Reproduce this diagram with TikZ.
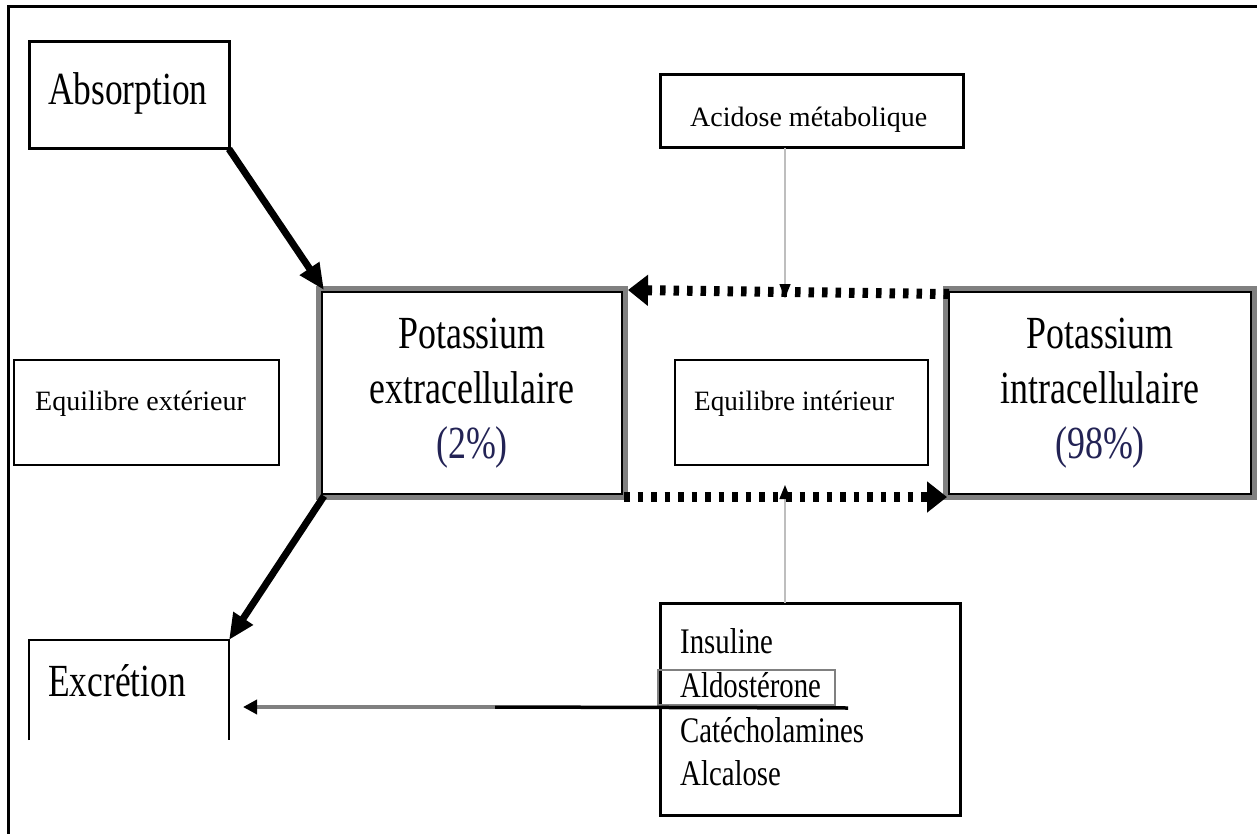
\documentclass[tikz,border=0pt]{standalone}
\usepackage{fontspec}
\usepackage{graphicx}
\setmainfont{Liberation Serif}
\usetikzlibrary{arrows.meta,calc}
\definecolor{navy}{RGB}{35,35,85}
\definecolor{kgray}{RGB}{128,128,128}
\definecolor{lgray}{RGB}{190,190,190}
\newcommand{\hsq}[2]{\scalebox{#1}[1]{#2}}
\begin{document}
\begin{tikzpicture}[x=1pt,y=-1pt,
  bx/.style={draw=black, rectangle, inner sep=0pt, outer sep=0pt},
  bigtxt/.style={font=\fontsize{46}{55}\selectfont, inner sep=0pt},
  midtxt/.style={font=\fontsize{36}{43}\selectfont, inner sep=0pt, anchor=base west},
  smalltxt/.style={font=\fontsize{28}{32}\selectfont, inner sep=0pt, anchor=base west},
  thickarrow/.style={line width=7pt, -{Triangle[length=26pt,width=22pt]}},
  dotarrow/.style={line width=10pt, dash pattern=on 5.5pt off 8pt, -{Triangle[length=20pt,width=30pt]}},
  thinarrow/.style={lgray, line width=1.5pt, -{Triangle[length=14pt,width=11pt,color=black]}}
]
\useasboundingbox (0,0) rectangle (1257,834);
% frame (top and left)
\draw[line width=3pt] (8,834) -- (8,7) -- (1257,7);

% boxes
\node[bx, line width=3pt, minimum width=200pt, minimum height=107pt] (abs) at (129,95.5) {};
\node[bx, line width=2.5pt, minimum width=265pt, minimum height=105pt] (eqext) at (146.5,412.5) {};
\node[bx, line width=2.5pt, minimum width=300pt, minimum height=202pt] (kex) at (472,393) {};
\node[bx, line width=2.5pt, minimum width=302pt, minimum height=202pt] (kin) at (1100,393) {};
\node[bx, line width=2.5pt, minimum width=253pt, minimum height=105pt] (eqint) at (801.5,412.5) {};
\node[bx, line width=3pt, minimum width=303pt, minimum height=73pt] (acid) at (811.5,111.5) {};
\node[bx, line width=3pt, minimum width=300pt, minimum height=212pt] (horm) at (810,709) {};
\node[rectangle, draw=none, inner sep=0pt, outer sep=0pt, minimum width=200pt, minimum height=100pt] (excr) at (129,690) {};
\node[rectangle, draw=kgray, line width=2pt, inner sep=0pt, minimum width=177pt, minimum height=35pt] (aldo) at (746.5,687.5) {};

% gray outer borders of the potassium boxes
\draw[kgray, line width=4.5pt] ([shift={(-3.5,3.5)}]kex.south west) rectangle ([shift={(3.5,-3.5)}]kex.north east);
\draw[kgray, line width=4.5pt] ([shift={(-3.5,3.5)}]kin.south west) rectangle ([shift={(3.5,-3.5)}]kin.north east);
\draw[line width=2.5pt] (kex.south west) rectangle (kex.north east);
\draw[line width=2.5pt] (kin.south west) rectangle (kin.north east);

% excretion box: open at the bottom
\draw[line width=2pt] (excr.south west) -- (excr.north west) -- (excr.north east) -- (excr.south east);

% texts
\node[bigtxt, anchor=base west] (tabs) at (48,105) {\hsq{0.77}{Absorption}};
\node[bigtxt, anchor=base west] (texcr) at (48,696) {\hsq{0.77}{Excrétion}};
\node[bigtxt, align=center] (tkex) at (kex.center) {\hsq{0.78}{Potassium}\\\hsq{0.78}{extracellulaire}\\\textcolor{navy}{\hsq{0.78}{(2\%)}}};
\node[bigtxt, align=center] (tkin) at (kin.center) {\hsq{0.78}{Potassium}\\\hsq{0.78}{intracellulaire}\\\textcolor{navy}{\hsq{0.78}{(98\%)}}};
\node[smalltxt] (teqext) at (35,410) {\hsq{1.0}{Equilibre extérieur}};
\node[smalltxt] (teqint) at (694,410) {\hsq{0.97}{Equilibre intérieur}};
\node[smalltxt] (tacid) at (690,127) {\hsq{1.0}{Acidose métabolique}};
\node[midtxt] (t1) at (680,653) {\hsq{0.8}{Insuline}};
\node[midtxt] (t2) at (680,697) {\hsq{0.8}{Aldostérone}};
\node[midtxt] (t3) at (680,742) {\hsq{0.8}{Catécholamines}};
\node[midtxt] (t4) at (680,785) {\hsq{0.8}{Alcalose}};

% connectors
\draw[thickarrow] (abs.south east) -- ([shift={(2,-2)}]kex.north west);
\draw[thickarrow] ([shift={(2,2)}]kex.south west) -- (excr.north east);
\draw[dotarrow] ([yshift=-2pt]kin.north west) -- ([shift={(6,-2)}]kex.north east);
\draw[dotarrow] ([shift={(2,3)}]kex.south east) -- ([shift={(-2,3)}]kin.south west);
\draw[thinarrow] ([xshift=-26.5pt]acid.south) -- ([xshift=-26.5pt,yshift=-6pt]acid.south |- kex.north);
\draw[thinarrow] ([xshift=-25pt]horm.north) -- ([xshift=-25pt,yshift=9pt]horm.north |- kex.south);

\coordinate (hstart) at ([shift={(12,2)}]aldo.south east);
\coordinate (hmid) at (495,707);
\draw[line width=3.5pt] (hstart) -- (hmid);
\draw[kgray, line width=3.5pt, -{Triangle[length=14pt,width=14pt,color=black]}] (hmid) -- ([shift={(14,17)}]excr.east);
\end{tikzpicture}
\end{document}
